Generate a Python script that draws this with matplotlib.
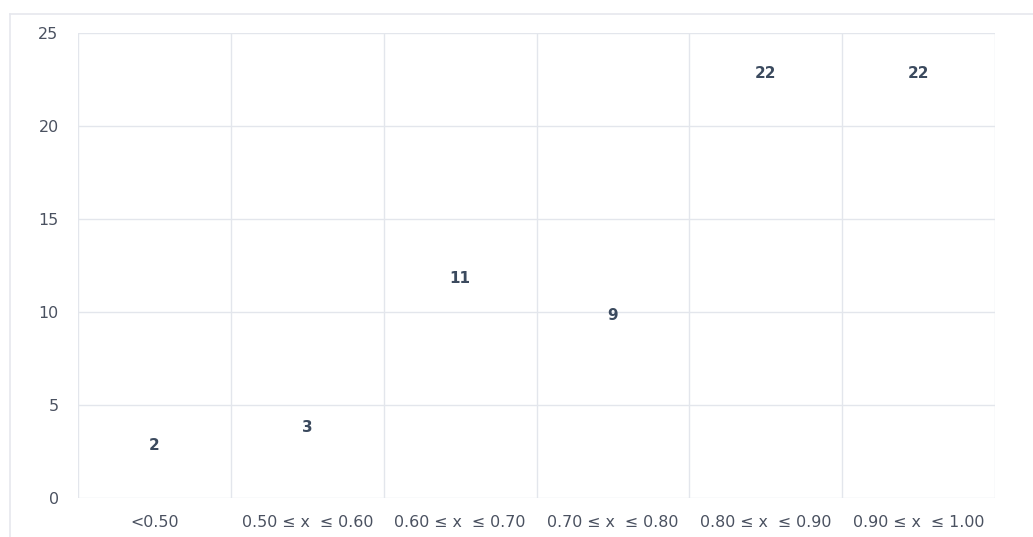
import matplotlib.pyplot as plt
from matplotlib.lines import Line2D

# data
categorias = ["<0.50", "0.50 ≤ x  ≤ 0.60", "0.60 ≤ x  ≤ 0.70",
              "0.70 ≤ x  ≤ 0.80", "0.80 ≤ x  ≤ 0.90", "0.90 ≤ x  ≤ 1.00"]
valores = [2, 3, 11, 9, 22, 22]
yticks = [0, 5, 10, 15, 20, 25]

plt.rcParams['font.family'] = ['DejaVu Sans']

fig = plt.figure(figsize=(10.33, 5.37), dpi=100)
ax = fig.add_axes([78 / 1033, 39 / 537, 917 / 1033, 465 / 537])

x = range(len(categorias))
barras = ax.bar(x, valores, width=1.0, color="none", edgecolor="none")
ax.bar_label(barras, labels=[str(v) for v in valores], padding=5.5,
             fontsize=11, fontweight="bold", color="#3b4a5e")

ax.set_xlim(-0.5, len(categorias) - 0.5)
ax.set_ylim(0, 25)
ax.set_yticks(yticks)
ax.set_xticks(list(x))
ax.set_xticklabels(categorias)

# grid: vertical lines at category boundaries
for b in range(len(categorias) + 1):
    ax.axvline(b - 0.5, color="#e3e6ec", lw=1, zorder=0)
for t in yticks:
    ax.axhline(t, color="#e3e6ec", lw=1, zorder=0)

for s in ax.spines.values():
    s.set_visible(False)
ax.tick_params(length=0, labelsize=11.4, labelcolor="#4a5160")
ax.tick_params(axis="y", pad=14)
ax.tick_params(axis="x", pad=12)

# outer frame
fig.add_artist(Line2D([9.5 / 1033, 9.5 / 1033], [0, 1 - 14 / 537],
                      transform=fig.transFigure, color="#e6e8ee", lw=1.2))
fig.add_artist(Line2D([9.5 / 1033, 1], [1 - 14 / 537, 1 - 14 / 537],
                      transform=fig.transFigure, color="#e6e8ee", lw=1.2))

fig.savefig("out.png", dpi=100)
